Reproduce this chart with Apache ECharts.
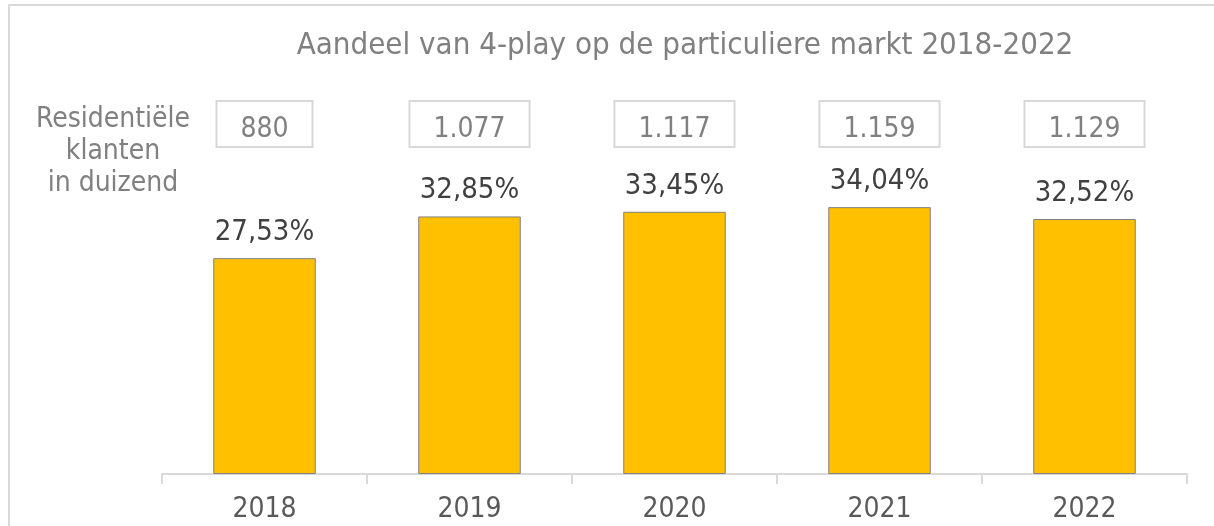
<!DOCTYPE html>
<html>
<head>
<meta charset="utf-8">
<script src="https://cdn.jsdelivr.net/npm/echarts@6/dist/echarts.min.js"></script>
<style>
  html, body { margin: 0; padding: 0; background: #fff; }
  #chart { width: 1214px; height: 526px; }
</style>
</head>
<body>
<div id="chart"></div>
<script>
var chart = echarts.init(document.getElementById('chart'));

// data
const years = ['2018', '2019', '2020', '2021', '2022'];
const share4play = [27.53, 32.85, 33.45, 34.04, 32.52];
const customers = ['880', '1.077', '1.117', '1.159', '1.129'];

var font = "'DejaVu Sans Condensed', 'Liberation Sans', sans-serif";

var option = {
	animation: false,
	backgroundColor: '#fff',
	graphic: [{
		type: 'rect',
		shape: { x: 9, y: 5, width: 1300, height: 600 },
		style: { fill: 'none', stroke: '#d9d9d9', lineWidth: 2 },
		silent: true
	}],
	title: [{
		text: 'Aandeel van 4-play op de particuliere markt 2018-2022',
		left: 680,
		top: 25,
		textAlign: 'center',
		textStyle: { fontFamily: font, fontSize: 31, fontWeight: 'normal', color: '#808080' }
	}, {
		text: 'Residentiële\nklanten\nin duizend',
		left: 108,
		top: 99,
		textAlign: 'center',
		textStyle: { fontFamily: font, fontSize: 28, fontWeight: 'normal', color: '#808080', lineHeight: 32 }
	}],
	grid: {
		left: 162,
		right: 27,
		top: 82,
		bottom: 52
	},
	xAxis: [{
		type: 'category',
		data: years,
		axisLine: { lineStyle: { color: '#d9d9d9', width: 2 } },
		axisTick: { show: true, length: 10, lineStyle: { color: '#d9d9d9', width: 2 } },
		axisLabel: { fontFamily: font, fontSize: 28, color: '#595959', margin: 22 }
	}, {
		type: 'category',
		position: 'top',
		data: customers,
		axisLine: { show: false },
		axisTick: { show: false },
		axisLabel: {
			inside: true,
			margin: 19,
			fontFamily: font,
			fontSize: 28,
			color: '#808080',
			lineHeight: 32,
			borderColor: '#d9d9d9',
			borderWidth: 2,
			padding: [13, 24, 1, 24]
		}
	}],
	yAxis: {
		type: 'value',
		min: 0,
		max: 50,
		show: false,
		splitLine: { show: false }
	},
	series: [{
		type: 'bar',
		data: share4play,
		barWidth: '50%',
		itemStyle: { color: '#FFC000', borderColor: '#808080', borderWidth: 1 },
		label: {
			show: true,
			position: 'top',
			distance: 11,
			fontFamily: font,
			fontSize: 29,
			color: '#404040',
			formatter: function (p) {
				return p.value.toFixed(2).replace('.', ',') + '%';
			}
		}
	}]
};

chart.setOption(option);
</script>
</body>
</html>
